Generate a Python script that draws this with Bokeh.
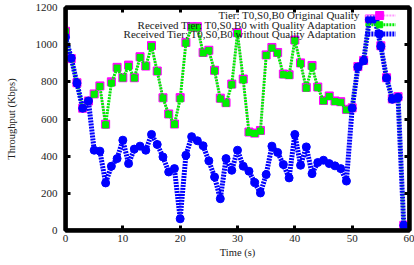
from bokeh.plotting import figure
from bokeh.models import Range1d, LinearAxis, FixedTicker, BoxAnnotation
from bokeh.core.properties import value
from bokeh.embed import file_html
from bokeh.resources import INLINE

x_ticks = [0, 10, 20, 30, 40, 50, 60]
y_ticks = [0, 200, 400, 600, 800, 1000, 1200]

time_full = list(range(0, 61))
original = [1072, 925, 795, 658, 697, 735, 778, 572, 800, 878,
            822, 890, 822, 935, 885, 995, 858, 714, 627, 573,
            715, 1012, 1097, 1097, 958, 970, 862, 712, 688, 788,
            1064, 815, 530, 524, 538, 945, 985, 958, 842, 838,
            1025, 902, 770, 888, 772, 700, 724, 697, 693, 652,
            660, 882, 915, 1138, 1138, 994, 822, 708, 720, 28, 28]
adapted = [1070, 925, 795, 658, 697, 733, 775, 568, 793, 874,
           820, 883, 820, 931, 883, 991, 856, 712, 625, 571,
           708, 1009, 1094, 1094, 955, 968, 859, 708, 685, 784,
           1060, 811, 528, 522, 535, 942, 982, 955, 838, 834,
           1022, 898, 766, 883, 769, 697, 721, 694, 690, 649,
           658, 880, 913, 1135, 1135, 991, 820, 706, 717, 27, 27]
time_na = list(range(0, 60))
no_adapt = [1040, 928, 793, 658, 697, 432, 427, 256, 346, 387,
            486, 360, 438, 454, 432, 517, 463, 396, 315, 333,
            63, 405, 505, 483, 456, 375, 288, 171, 387, 324,
            432, 346, 319, 258, 202, 301, 454, 420, 355, 283,
            517, 351, 450, 306, 366, 378, 360, 348, 333, 266,
            658, 880, 913, 1135, 1135, 991, 820, 706, 717, 27]

legend_labels = ["Tier: T0,S0,B0 Original Quality",
                 "Received Tier: T0,S0,B0  with Quality Adaptation",
                 "Received Tier: T0,S0,B0  without Quality Adaptation"]

FONT = "Liberation Serif"
MAG = "#ff00ff"
MAG_LINE = "#ff99ff"
GRN = "#00ee00"
BLU = "#0000ff"

p = figure(width=414, height=265, output_backend="svg", toolbar_location=None,
           x_range=Range1d(0, 60), y_range=Range1d(0, 1200),
           min_border_left=65, min_border_right=5, min_border_top=7,
           min_border_bottom=35)
p.xgrid.visible = False
p.ygrid.visible = False
p.outline_line_color = "#000000"
p.outline_line_width = 4
p.outline_line_alpha = 1.0
p.background_fill_color = "white"
p.border_fill_color = "white"

def style_axis(ax, ticks):
    ax.ticker = FixedTicker(ticks=ticks)
    ax.major_tick_in = 5
    ax.major_tick_out = 0
    ax.minor_tick_in = 0
    ax.minor_tick_out = 0
    ax.major_tick_line_width = 3
    ax.major_tick_line_color = "#000000"
    ax.axis_line_width = 4
    ax.axis_line_color = "#000000"
    ax.axis_line_alpha = 1.0
    ax.major_label_text_font = FONT
    ax.major_label_text_font_size = "11px"
    ax.major_label_text_color = "#222222"
    ax.axis_label_text_font = FONT
    ax.axis_label_text_font_size = "10.5px"
    ax.axis_label_text_font_style = "normal"
    ax.axis_label_text_color = "#222222"

style_axis(p.xaxis[0], x_ticks)
style_axis(p.yaxis[0], y_ticks)
p.xaxis[0].axis_label = "Time (s)"
p.yaxis[0].axis_label = "Throughput (Kbps)"
p.xaxis[0].major_label_standoff = 4
p.xaxis[0].axis_label_standoff = 2
p.yaxis[0].major_label_standoff = 8
p.yaxis[0].axis_label_standoff = 16

for loc, ticks in (("right", y_ticks), ("above", x_ticks)):
    ax = LinearAxis()
    style_axis(ax, ticks)
    ax.major_label_overrides = {t: "" for t in ticks}
    ax.major_label_standoff = 0
    p.add_layout(ax, loc)

# heavy frame border like the reference
p.add_layout(BoxAnnotation(fill_alpha=0, line_color="#000000", line_width=4,
                           line_alpha=1.0, level="overlay"))

# series: original (magenta), with adaptation (green), without adaptation (blue)
p.line(time_full, original, line_color=MAG_LINE, line_width=2, line_dash="2 1")
p.scatter(time_full, original, marker="square", size=8, fill_color=MAG, line_color=MAG)
p.line(time_full, adapted, line_color=GRN, line_width=3, line_dash="2 1")
p.scatter(time_full, adapted, marker="square", size=6, fill_color=GRN, line_color=GRN)
p.line(time_na, no_adapt, line_color=BLU, line_width=5, line_dash="2 1")
p.scatter(time_na, no_adapt, marker="circle", size=8, fill_color=BLU, line_color=BLU)

# legend (text right-aligned, sample to the right)
leg_y = [1157, 1107, 1057]
leg_text_x = 51.3
s0, s1, sm = 52.3, 57.6, 54.8
p.text([leg_text_x] * 3, leg_y, text=legend_labels, text_align="right",
       text_baseline="middle", text_font=value(FONT), text_font_size="11px",
       text_color="#222222")
p.line([s0, s1], [leg_y[0]] * 2, line_color=MAG_LINE, line_width=2, line_dash="2 1")
p.scatter([sm], [leg_y[0]], marker="square", size=8, fill_color=MAG, line_color=MAG)
p.line([s0, s1], [leg_y[1]] * 2, line_color=GRN, line_width=3, line_dash="2 1")
p.scatter([sm], [leg_y[1]], marker="square", size=6, fill_color=GRN, line_color=GRN)
p.line([s0, s1], [leg_y[2]] * 2, line_color=BLU, line_width=5, line_dash="2 1")
p.scatter([sm], [leg_y[2]], marker="circle", size=8, fill_color=BLU, line_color=BLU)

open("out.html", "w").write(file_html(p, INLINE))
